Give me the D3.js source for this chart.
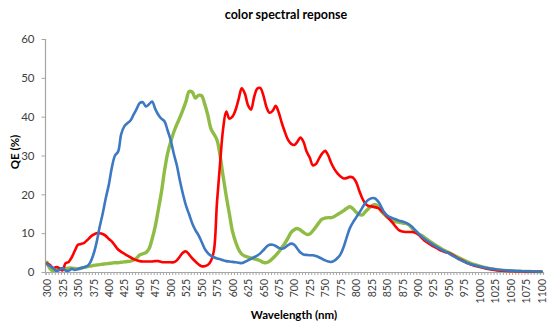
<!DOCTYPE html>
<html><head><meta charset="utf-8">
<script src="https://cdn.jsdelivr.net/npm/d3@7"></script>
<style>body{margin:0;background:#fff;}svg{display:block;}</style>
</head><body>
<svg id="c" width="554" height="331"></svg>
<script>
// categories: wavelength (nm), 5 nm steps
const wavelengths = d3.range(300, 1101, 5);
const xTickLabels = [300,325,350,375,400,425,450,475,500,525,550,575,600,625,650,675,700,725,750,775,800,825,850,875,900,925,950,975,1000,1025,1050,1075,1100];
const yTickLabels = [0,10,20,30,40,50,60];

const blue = [
 2.0,1.5,1.0,0.3,0.5,1.0,0.4,0.3,0.8,0.5,
 0.8,1.0,1.2,1.5,2.5,4.5,7.5,11.5,15,19,
 22.5,27,30,31,35.5,37.5,38.3,39,40.5,42,
 43.5,43.7,42.6,43.2,43.9,42,40.5,39.5,38.8,36.5,
 34,30.5,27.5,23.5,20,17,14.8,12.5,10.8,9.5,
 7.8,6,4.9,4.2,3.8,3.5,3.3,3.0,2.8,2.7,
 2.6,2.5,2.4,2.3,2.6,3.0,3.4,3.8,4.2,4.8,
 5.6,6.5,7.0,7.0,6.7,6.2,6.0,6.3,6.9,7.3,
 7.0,6.0,5.0,4.5,4.4,4.3,4.3,4.1,3.8,3.4,
 3.0,2.7,2.6,2.9,3.6,4.6,6.5,9,11.3,12.8,
 14,15.2,16.5,17.8,18.6,19,19.0,18.3,17,15.5,
 14.6,14.1,13.8,13.5,13.2,13.0,12.7,12.3,11.7,10.9,
 10.1,9.3,8.6,8.0,7.5,7.0,6.5,6.0,5.6,5.2,
 4.8,4.3,3.9,3.4,3.0,2.7,2.3,2.0,1.8,1.6,
 1.4,1.2,1.05,0.9,0.8,0.7,0.6,0.5,0.45,0.4,
 0.35,0.3,0.25,0.22,0.2,0.18,0.15,0.13,0.12,0.1,
 0.1];

const red = [
 2.2,1.8,1.0,1.3,1.0,0.4,2.3,2.6,3.8,5.5,
 7.0,7.2,7.5,8.2,9.0,9.6,10.0,10.0,9.8,9.3,
 8.5,7.8,6.8,5.8,5.2,4.7,4.2,3.8,3.3,3.0,
 2.8,2.7,2.7,2.7,2.7,2.8,2.8,2.6,2.5,2.5,
 2.5,2.5,3.0,4.0,5.0,5.3,4.5,3.5,2.7,2.0,
 1.5,1.5,1.8,2.8,5.5,18,28,37,41.3,39.5,
 40,41.7,44.5,47.3,46,43,41.8,45,47.2,47.4,
 45.5,42.5,41,41.5,42.8,41,38.3,36,34,33,
 32.7,33.5,34.6,33.5,31,29.5,27.5,27.8,29.2,30.5,
 31.2,30,28,26.5,25.4,24.6,24.1,24.2,24.5,24.3,
 23.2,21,19,17.6,17,16.9,16.7,16.5,16.0,15.2,
 14.3,13.4,12.5,11.5,10.7,10.4,10.3,10.3,10.3,10.2,
 9.8,9.0,8.2,7.6,7.1,6.6,6.2,5.7,5.4,5.1,
 4.9,4.5,4.0,3.5,3.1,2.7,2.3,2.0,1.7,1.5,
 1.3,1.1,0.9,0.75,0.6,0.5,0.4,0.35,0.3,0.25,
 0.2,0.18,0.15,0.13,0.12,0.1,0.1,0.08,0.08,0.05,
 0.05];

const green = [
 2.5,0.8,0.3,0.5,0.8,0.7,0.9,1.0,1.0,0.9,
 0.8,1.0,1.2,1.4,1.5,1.7,1.8,1.9,2.0,2.1,
 2.2,2.3,2.4,2.4,2.5,2.6,2.7,2.8,3.1,3.6,
 4.4,4.7,5.0,6.0,8.5,11.7,16,20.5,26,30.5,
 33.5,36,38,39.8,41.8,44,46.5,46.3,44.8,45.5,
 45.4,43.3,40.5,37,35.5,34,30,24.5,19.5,15,
 10.5,7.8,5.8,4.6,4.1,3.8,3.6,3.4,3.2,2.9,
 2.5,2.4,2.8,3.5,4.3,5.2,6.3,7.4,8.8,10.2,
 10.9,11.2,10.8,10.2,9.7,9.8,10.6,11.6,12.7,13.6,
 13.9,14.0,14.0,14.3,14.8,15.3,15.8,16.4,16.8,16.3,
 15.4,14.8,14.7,15.5,16.3,17.0,17.4,17.0,15.8,14.9,
 14.2,13.6,13.1,12.9,12.8,12.6,12.5,12.2,11.4,10.4,
 9.8,9.5,9.0,8.4,7.8,7.3,6.8,6.3,5.8,5.4,
 5.0,4.6,4.2,3.8,3.4,3.0,2.6,2.3,2.0,1.8,
 1.5,1.3,1.1,0.9,0.8,0.65,0.55,0.45,0.4,0.35,
 0.3,0.25,0.2,0.18,0.15,0.13,0.12,0.1,0.1,0.08,
 0.08];

const svg = d3.select("#c");
const FONT = "Lato, 'Open Sans', sans-serif";
const x = d3.scaleLinear().domain([297.5, 1102.5]).range([45.5, 543]);
const y = d3.scaleLinear().domain([0, 60]).range([272, 39]);
const axisColor = "#a6a6a6";

// title
svg.append("text").attr("x", 286).attr("y", 19).attr("text-anchor","middle")
  .attr("font-family", FONT).attr("font-weight","bold").attr("font-size", 12.5)
  .attr("fill","#000").text("color spectral reponse");

// y axis
const yAxis = d3.axisLeft(y).tickValues(yTickLabels).tickSize(4).tickPadding(7).tickFormat(d3.format("d"));
const gy = svg.append("g").attr("transform","translate(45.5,0)").call(yAxis);
gy.select(".domain").attr("stroke", axisColor).attr("stroke-width",1.2).attr("d","M0,"+y(60)+"V"+y(0));
gy.selectAll(".tick line").attr("stroke", axisColor);
gy.selectAll(".tick text").attr("font-family", FONT).attr("font-size", 11.5).attr("fill","#404040");

// x axis: minor ticks every category boundary
const tickBounds = wavelengths.map(w => w - 2.5).concat([1102.5]);
const xAxisMinor = d3.axisBottom(x).tickValues(tickBounds).tickSize(3).tickFormat("");
const gxm = svg.append("g").attr("transform","translate(0,272)").call(xAxisMinor);
gxm.select(".domain").attr("stroke", axisColor).attr("stroke-width",1.2);
gxm.selectAll(".tick line").attr("stroke", axisColor);

const xAxisLabels = d3.axisBottom(x).tickValues(xTickLabels).tickSize(0).tickFormat(d3.format("d"));
const gx = svg.append("g").attr("transform","translate(0,272)").call(xAxisLabels);
gx.select(".domain").remove();
gx.selectAll(".tick text")
  .attr("font-family", FONT).attr("font-size", 10.5).attr("fill","#404040")
  .attr("text-anchor","end").attr("transform","rotate(-90)")
  .attr("x", -7).attr("y", 0).attr("dy","0.35em");

// axis titles
svg.append("text").attr("x", 294).attr("y", 319).attr("text-anchor","middle")
  .attr("font-family", FONT).attr("font-weight","bold").attr("font-size", 11.5)
  .attr("fill","#000").text("Wavelength (nm)");
svg.append("text").attr("transform","translate(19,152) rotate(-90)").attr("text-anchor","middle")
  .attr("font-family", FONT).attr("font-weight","bold").attr("font-size", 11.5)
  .attr("fill","#000").text("QE (%)");

// lines
const line = d3.line().x((d,i) => x(wavelengths[i])).y(d => y(d)).curve(d3.curveCatmullRom.alpha(0.5));
const series = [
  {name:"green", values: green, color:"#8fbc45", width:3.4},
  {name:"red", values: red, color:"#ff0000", width:2.6},
  {name:"blue", values: blue, color:"#3d78c2", width:2.6}
];
svg.append("g").selectAll("path").data(series).join("path")
  .attr("fill","none").attr("stroke", d => d.color).attr("stroke-width", d => d.width)
  .attr("stroke-linejoin","round").attr("stroke-linecap","round")
  .attr("d", d => line(d.values.slice(0, wavelengths.length)));
</script>
</body></html>
